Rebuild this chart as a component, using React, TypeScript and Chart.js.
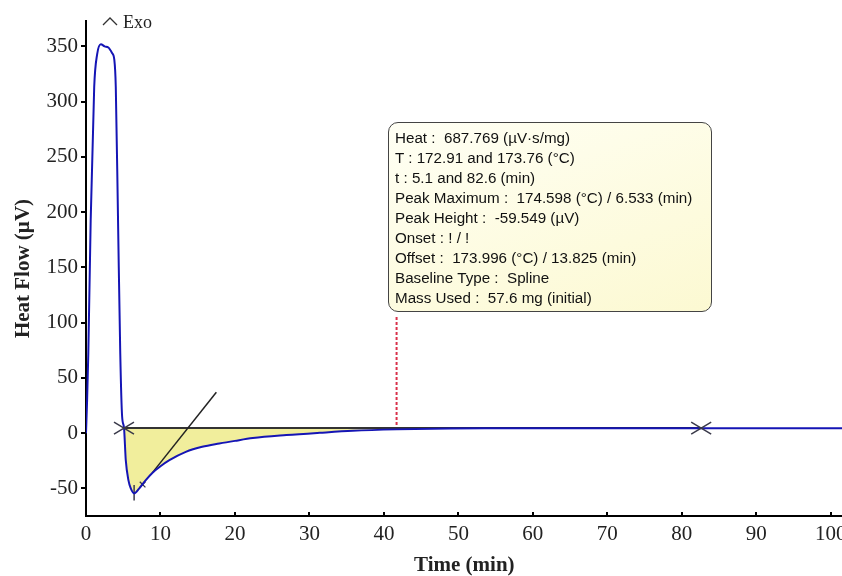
import React, { useEffect, useRef } from "react";
import { Chart, registerables } from "chart.js";

Chart.register(...registerables);

// ---- data ----
const TIME = [0, 0.15, 0.31, 0.63, 1.1, 1.5, 2.0, 2.5, 3.0, 3.5, 3.8, 4.0, 4.3, 4.6, 4.85, 5.1, 5.34, 5.7, 6.0, 6.46, 7.1, 8.0, 8.9, 10, 11.2, 13.4, 15.6, 17.9, 20, 22.4, 26.9, 31.4, 35.8, 41.7, 48.9, 55, 65, 82.6, 101.6];
const HEAT = [0, 30, 72, 193, 313, 343, 352, 350, 349, 344, 338, 313, 193, 72, 15, 5, -24.5, -42.7, -49.8, -54.5, -50.5, -42.7, -36, -30, -24.5, -17, -12.4, -9.4, -7, -4.5, -1.8, 0.3, 2.1, 3.4, 4.2, 4.4, 4.5, 4.5, 4.5];
const BASELINE = 4.6;
const BASE_T = [5.1, 82.6];
const LIMIT_T = [5.1, 82.6];
const TANGENT_T = [8.9, 17.5];
const TANGENT_V = [-36, 37];
const CURSOR_T = [41.7, 41.7];
const CURSOR_V = [105, 4.6];
const PEAK_T = [6.46, 6.46];
const PEAK_V = [-47, -61];
const SMALL_MARK_T = [7.6];
const SMALL_MARK_V = [-46.5];
const X_TICKS = [0, 10, 20, 30, 40, 50, 60, 70, 80, 90, 100];
const Y_TICKS = [-50, 0, 50, 100, 150, 200, 250, 300, 350];
const X_MIN = 0;
const X_MAX = 101.6;
const Y_MIN = -75;
const Y_MAX = 373;
const INFO_LINES = [
  "Heat :  687.769 (µV·s/mg)",
  "T : 172.91 and 173.76 (°C)",
  "t : 5.1 and 82.6 (min)",
  "Peak Maximum :  174.598 (°C) / 6.533 (min)",
  "Peak Height :  -59.549 (µV)",
  "Onset : ! / !",
  "Offset :  173.996 (°C) / 13.825 (min)",
  "Baseline Type :  Spline",
  "Mass Used :  57.6 mg (initial)",
];

const SERIF = "'Liberation Serif', 'Times New Roman', serif";

const decorPlugin = {
  id: "decor",
  afterDatasetsDraw(chart: any) {
    const { ctx, chartArea, scales } = chart;
    const xs = scales.x;
    const ys = scales.y;
    ctx.save();
    // big X limit markers on baseline
    ctx.strokeStyle = "#3a3a4a";
    ctx.lineWidth = 1.5;
    LIMIT_T.forEach((t) => {
      const px = xs.getPixelForValue(t);
      const py = ys.getPixelForValue(BASELINE);
      ctx.beginPath();
      ctx.moveTo(px - 10, py - 6);
      ctx.lineTo(px + 10, py + 6);
      ctx.moveTo(px - 10, py + 6);
      ctx.lineTo(px + 10, py - 6);
      ctx.stroke();
    });
    // Exo indicator
    const ex = chartArea.left + 24;
    const ey = chartArea.top;
    ctx.strokeStyle = "#333";
    ctx.lineWidth = 1.3;
    ctx.beginPath();
    ctx.moveTo(ex - 7, ey + 4);
    ctx.lineTo(ex, ey - 3);
    ctx.lineTo(ex + 7, ey + 4);
    ctx.stroke();
    ctx.fillStyle = "#222";
    ctx.font = `18px ${SERIF}`;
    ctx.textAlign = "left";
    ctx.textBaseline = "alphabetic";
    ctx.fillText("Exo", ex + 13, ey + 7);
    ctx.restore();
  },
};

export default function App() {
  const canvasRef = useRef<HTMLCanvasElement | null>(null);

  useEffect(() => {
    if (!canvasRef.current) return;
    const curve = TIME.map((t, i) => ({ x: t, y: HEAT[i] }));
    const fillPart = curve.filter((p) => p.x >= BASE_T[0] && p.x <= BASE_T[1]);
    const chart = new Chart(canvasRef.current, {
      type: "line",
      data: {
        datasets: [
          {
            data: curve,
            borderColor: "#1515b5",
            borderWidth: 2,
            pointRadius: 0,
            cubicInterpolationMode: "monotone",
            fill: false,
            order: 0,
          },
          {
            data: fillPart,
            borderWidth: 0,
            borderColor: "rgba(0,0,0,0)",
            backgroundColor: "#f1ee9c",
            pointRadius: 0,
            cubicInterpolationMode: "monotone",
            fill: { value: BASELINE },
            order: 5,
          },
          {
            data: BASE_T.map((t) => ({ x: t, y: BASELINE })),
            borderColor: "#333333",
            borderWidth: 2,
            pointRadius: 0,
            fill: false,
            order: 3,
          },
          {
            data: TANGENT_T.map((t, i) => ({ x: t, y: TANGENT_V[i] })),
            borderColor: "#222222",
            borderWidth: 1.5,
            pointRadius: 0,
            fill: false,
            order: 2,
          },
          {
            data: CURSOR_T.map((t, i) => ({ x: t, y: CURSOR_V[i] })),
            borderColor: "#d8314a",
            borderWidth: 2,
            borderDash: [3, 2],
            pointRadius: 0,
            fill: false,
            order: 4,
          },
          {
            data: PEAK_T.map((t, i) => ({ x: t, y: PEAK_V[i] })),
            borderColor: "#3a3a4a",
            borderWidth: 1.5,
            pointRadius: 0,
            fill: false,
            order: 1,
          },
          {
            data: SMALL_MARK_T.map((t, i) => ({ x: t, y: SMALL_MARK_V[i] })),
            borderColor: "#3a3a4a",
            borderWidth: 1.3,
            pointStyle: "crossRot",
            pointRadius: 4,
            showLine: false,
            fill: false,
            order: 1,
          },
        ],
      },
      options: {
        responsive: true,
        maintainAspectRatio: false,
        animation: false,
        events: [],
        layout: { padding: { top: 21, left: 0, right: 0, bottom: 0 } },
        plugins: {
          legend: { display: false },
          tooltip: { enabled: false },
        },
        scales: {
          x: {
            type: "linear",
            min: X_MIN,
            max: X_MAX,
            afterBuildTicks: (scale: any) => {
              scale.ticks = X_TICKS.map((v) => ({ value: v }));
            },
            afterFit: (scale: any) => {
              scale.height = 60;
              scale.paddingLeft = 0;
              scale.paddingRight = 0;
            },
            border: { display: true, color: "#000", width: 2 },
            grid: {
              drawOnChartArea: false,
              drawTicks: true,
              tickLength: -4,
              color: "#000",
              lineWidth: 2,
            },
            ticks: {
              color: "#222",
              font: { family: SERIF, size: 21 },
              padding: 10,
              maxRotation: 0,
              autoSkip: false,
            },
            title: {
              display: true,
              text: "Time (min)",
              color: "#222",
              font: { family: SERIF, size: 21, weight: "bold", lineHeight: 1 },
              padding: { top: 0, bottom: 0 },
            },
          },
          y: {
            type: "linear",
            min: Y_MIN,
            max: Y_MAX,
            afterBuildTicks: (scale: any) => {
              scale.ticks = Y_TICKS.map((v) => ({ value: v }));
            },
            afterFit: (scale: any) => {
              scale.width = 86;
              scale.paddingTop = 0;
              scale.paddingBottom = 0;
            },
            border: { display: true, color: "#000", width: 2 },
            grid: {
              drawOnChartArea: false,
              drawTicks: true,
              tickLength: 5,
              color: "#000",
              lineWidth: 2,
            },
            ticks: {
              color: "#222",
              font: { family: SERIF, size: 21 },
              padding: 3,
              autoSkip: false,
            },
            title: {
              display: true,
              text: "Heat Flow (µV)",
              color: "#222",
              font: { family: SERIF, size: 21, weight: "bold", lineHeight: 1.2 },
              padding: { top: 11, bottom: 0 },
            },
          },
        },
      },
      plugins: [decorPlugin],
    } as any);
    return () => chart.destroy();
  }, []);

  return (
    <div
      style={{
        position: "fixed",
        left: 0,
        top: 0,
        width: 842,
        height: 576,
        overflow: "hidden",
        background: "#fff",
      }}
    >
      <div style={{ position: "absolute", left: 0, top: 0, width: 848, height: 576 }}>
        <canvas ref={canvasRef} />
      </div>
      <div
        style={{
          position: "absolute",
          left: 388,
          top: 122,
          width: 324,
          height: 190,
          boxSizing: "border-box",
          border: "1.5px solid #444",
          borderRadius: 10,
          background: "linear-gradient(160deg, #fffff4 0%, #fcf9d2 100%)",
          padding: "5px 0 0 6px",
          fontFamily: "'Liberation Sans', Arial, sans-serif",
          fontSize: 14,
          lineHeight: "20px",
          color: "#111",
          whiteSpace: "pre",
        }}
      >
        <div style={{ transform: "scaleX(1.085)", transformOrigin: "left top" }}>
          {INFO_LINES.map((l, i) => (
            <div key={i}>{l}</div>
          ))}
        </div>
      </div>
    </div>
  );
}
